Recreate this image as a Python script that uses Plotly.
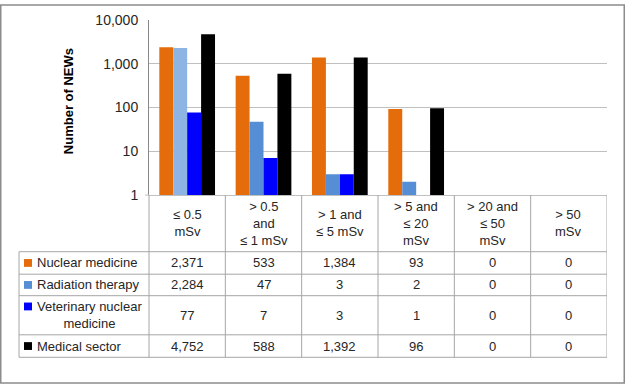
import plotly.graph_objects as go

# ---- data ----
categories = ["≤ 0.5\nmSv", "> 0.5\nand\n≤ 1 mSv", "> 1 and\n≤ 5 mSv",
              "> 5 and\n≤ 20\nmSv", "> 20 and\n≤ 50\nmSv", "> 50\nmSv"]
series_names = ["Nuclear medicine", "Radiation therapy",
                "Veterinary nuclear\nmedicine", "Medical sector"]
nuclear_medicine = [2371, 533, 1384, 93, 0, 0]
radiation_therapy = [2284, 47, 3, 2, 0, 0]
veterinary_nuclear_medicine = [77, 7, 3, 1, 0, 0]
medical_sector = [4752, 588, 1392, 96, 0, 0]
y_tick_values = [1, 10, 100, 1000, 10000]
y_tick_labels = ["1", "10", "100", "1,000", "10,000"]
y_title = "Number of NEWs"

series_values = [nuclear_medicine, radiation_therapy,
                 veterinary_nuclear_medicine, medical_sector]
series_colors = [
    ["#E46C0A"] * 6,
    ["#8EB4E3"] + ["#558ED5"] * 5,
    ["#0000FF"] * 6,
    ["#000000"] * 6,
]
swatch_colors = ["#E46C0A", "#558ED5", "#0000FF", "#000000"]

# ---- geometry (pixels) ----
W, H = 626, 389
L, R, T, B = 149, 607, 16, 195
pw, ph = R - L, B - T


def px(xp):
    return (xp - L) / pw


def py(yp):
    return (B - yp) / ph


FONT = "Liberation Sans, Arial, sans-serif"
GRID = "#C0C0C0"
TBL = "#A6A6A6"
TXT = "#262626"

fig = go.Figure()
xs = list(range(len(categories)))
for name, vals, cols in zip(series_names, series_values, series_colors):
    fig.add_trace(go.Bar(
        x=xs, y=[v if v > 0 else None for v in vals],
        name=name.replace("\n", " "), marker=dict(color=cols, line=dict(width=0)),
        showlegend=False, hoverinfo="skip",
    ))

shapes = []
annotations = []

row_lines = [253, 276, 298, 338, 361]
for yl in row_lines:
    shapes.append(dict(type="line", xref="paper", yref="paper",
                       x0=px(19), x1=px(R), y0=py(yl), y1=py(yl),
                       line=dict(color=TBL, width=1)))
shapes.append(dict(type="line", xref="paper", yref="paper",
                   x0=px(19), x1=px(19), y0=py(253), y1=py(361),
                   line=dict(color=TBL, width=1)))
shapes.append(dict(type="line", xref="paper", yref="paper",
                   x0=0, x1=0, y0=py(B), y1=py(361),
                   line=dict(color=TBL, width=1)))
for i in range(len(categories)):
    shapes.append(dict(type="line", xref="x", yref="paper",
                       x0=i + 0.5, x1=i + 0.5, y0=py(B), y1=py(361),
                       line=dict(color=TBL, width=1)))
shapes.append(dict(type="line", xref="paper", yref="paper",
                   x0=px(145), x1=0, y0=0, y1=0,
                   line=dict(color=GRID, width=1)))
# outer chart border
shapes.append(dict(type="rect", xref="paper", yref="paper",
                   x0=px(0.75), x1=px(W - 1.75), y0=py(0.75), y1=py(H - 1.75),
                   line=dict(color="#8C8C8C", width=1.5)))

for i, c in enumerate(categories):
    annotations.append(dict(xref="x", yref="paper", x=i, y=py(224),
                            text=c.replace("\n", "<br>"), showarrow=False,
                            xanchor="center", yanchor="middle", align="center",
                            font=dict(family=FONT, size=13, color=TXT)))

row_centers = [(row_lines[k] + row_lines[k + 1]) / 2 for k in range(4)]
for name, vals, sw, yc in zip(series_names, series_values, swatch_colors, row_centers):
    sy = yc - 9 if "\n" in name else yc
    shapes.append(dict(type="rect", xref="paper", yref="paper",
                       x0=px(24), x1=px(32), y0=py(sy - 4), y1=py(sy + 4),
                       fillcolor=sw, line=dict(width=0)))
    annotations.append(dict(xref="paper", yref="paper", x=px(35), y=py(yc),
                            text=name.replace("\n", "<br>"), showarrow=False,
                            xanchor="left", yanchor="middle", align="center",
                            font=dict(family=FONT, size=13, color=TXT)))
    for i, v in enumerate(vals):
        annotations.append(dict(xref="x", yref="paper", x=i, y=py(yc),
                                text=f"{v:,}", showarrow=False,
                                xanchor="center", yanchor="middle",
                                font=dict(family=FONT, size=13, color=TXT)))

annotations.append(dict(xref="paper", yref="paper", x=px(68), y=py(99),
                        text=f"<b>{y_title}</b>", textangle=-90, showarrow=False,
                        xanchor="center", yanchor="middle",
                        font=dict(family=FONT, size=13, color="#000000")))

fig.update_layout(
    width=W, height=H,
    margin=dict(l=L, r=W - R, t=T, b=H - B, pad=0),
    paper_bgcolor="white", plot_bgcolor="white",
    barmode="group", bargap=0.27, bargroupgap=0,
    shapes=shapes, annotations=annotations,
    xaxis=dict(range=[-0.5, len(categories) - 0.5], showticklabels=False,
               showgrid=False, zeroline=False, showline=True,
               linecolor=GRID, linewidth=1, ticks="", fixedrange=True),
    yaxis=dict(type="log", range=[0, 4], tickvals=y_tick_values,
               ticktext=y_tick_labels, showgrid=True, gridcolor=GRID,
               gridwidth=1, showline=True, linecolor="#888888", linewidth=1,
               ticks="", ticklabelstandoff=7, fixedrange=True,
               tickfont=dict(family=FONT, size=14, color=TXT)),
    font=dict(family=FONT),
)

fig.write_html("out.html",
               config={"displayModeBar": False, "responsive": False},
               post_script="document.body.style.margin='0';document.body.style.overflow='hidden';")
